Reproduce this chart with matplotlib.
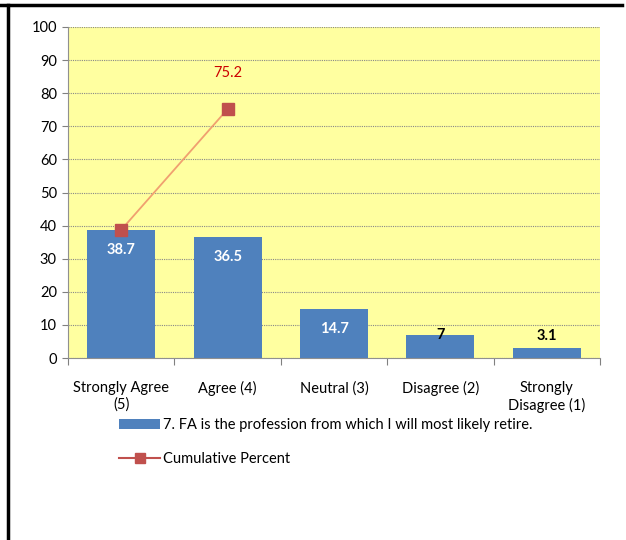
import numpy as np
import matplotlib.pyplot as plt
from matplotlib.lines import Line2D
from matplotlib.patches import Patch

categories = ['Strongly Agree\n(5)', 'Agree (4)', 'Neutral (3)', 'Disagree (2)', 'Strongly\nDisagree (1)']
percent = [38.7, 36.5, 14.7, 7, 3.1]
cumulative = [38.7, 75.2]
bar_name = '7. FA is the profession from which I will most likely retire.'
line_name = 'Cumulative Percent'

plt.rcParams['font.family'] = ['Lato', 'DejaVu Sans']

fig = plt.figure(figsize=(6.26, 5.40), dpi=100)
ax = fig.add_axes([68/626, 1 - 358/540, 532/626, 331/540])
ax.set_facecolor('#FFFFA0')

x = np.arange(len(categories))
bars = ax.bar(x, percent, width=0.64, color='#4F81BD', zorder=2)

ax.plot(x[:len(cumulative)], cumulative, color='#F0A070', lw=1.3, zorder=3)
ax.plot(x[:len(cumulative)], cumulative, 's', color='#C0504D', ms=8, zorder=4)

# value labels: white inside tall bars, black on the short ones
for xi, v in zip(x, percent):
    if v > 10:
        ax.text(xi, v - 6, f'{v:g}', ha='center', va='center', color='white',
                fontsize=10.5, fontweight='bold', zorder=5)
    else:
        ax.text(xi, max(v, 6.5), f'{v:g}', ha='center', va='center', color='black',
                fontsize=10.5, fontweight='bold', zorder=5)
ax.text(x[1], cumulative[1] + 11, f'{cumulative[1]:g}', ha='center', va='center',
        color='#CC0000', fontsize=10.5)

ax.set_xlim(-0.5, len(categories) - 0.5)
ax.set_ylim(0, 100)
ax.set_yticks(range(0, 101, 10))
ax.set_xticks(np.arange(-0.5, len(categories), 1))
ax.set_xticklabels([])
ax.tick_params(axis='x', length=5, color='#808080', direction='out')
ax.tick_params(axis='y', length=4, color='#808080', labelsize=10.5, pad=4)
for xi, lab in zip(x, categories):
    ax.text(xi, -7.0, lab, ha='center', va='top', fontsize=10.5, linespacing=1.2,
            transform=ax.transData, clip_on=False)

ax.grid(axis='y', color='#888888', linestyle=(0, (1, 1)), lw=0.8, zorder=1)
for s in ['top', 'right']:
    ax.spines[s].set_visible(False)
for s in ['left', 'bottom']:
    ax.spines[s].set_color('#909090')

handles = [Patch(facecolor='#4F81BD', edgecolor='none'),
           Line2D([0], [0], color='#C0504D', marker='s', ms=7)]
leg = fig.legend(handles, [bar_name, line_name], loc='upper left',
                 bbox_to_anchor=(106/626, 1 - 405/540), frameon=False,
                 fontsize=10.5, handlelength=2.8, handleheight=0.6,
                 handletextpad=0.2, labelspacing=1.35)

# outer frame lines
fig.add_artist(Line2D([0, 622/626], [1 - 5/540, 1 - 5/540], color='black', lw=2.5,
                      transform=fig.transFigure))
fig.add_artist(Line2D([8/626, 8/626], [0, 1 - 5/540], color='black', lw=2.5,
                      transform=fig.transFigure))

fig.savefig('out.png', dpi=100)
